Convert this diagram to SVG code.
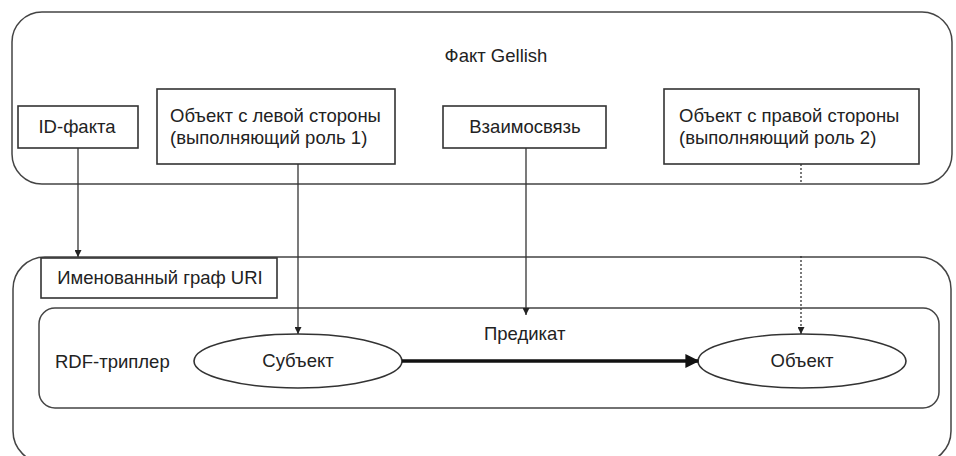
<svg xmlns="http://www.w3.org/2000/svg" width="956" height="456" viewBox="0 0 956 456">
<defs>
<style>
.frame{fill:none;stroke:#444;stroke-width:1.5}
.box{fill:#fff;stroke:#333;stroke-width:1.6}
.t{font-family:"Liberation Sans",Arial,sans-serif;font-size:18.5px;fill:#222}
.c{stroke:#333;stroke-width:1.3;fill:none}
</style>
<marker id="ah" viewBox="0 0 10 10" refX="10" refY="5" markerWidth="7" markerHeight="7" markerUnits="userSpaceOnUse" orient="auto"><path d="M0,0 L10,5 L0,10 z" fill="#222"/></marker>
<marker id="ahb" viewBox="0 0 10 10" refX="9" refY="5" markerWidth="4" markerHeight="4" orient="auto"><path d="M0,0 L10,5 L0,10 z" fill="#111"/></marker>
</defs>
<g id="gellish-fact">
<rect class="frame" x="12" y="12" width="940" height="172" rx="30" ry="30"/>
<text class="t" x="496" y="62" text-anchor="middle">Факт Gellish</text>
</g>
<g id="named-graph-frame">
<rect class="frame" x="13" y="257" width="938" height="206" rx="32" ry="32"/>
</g>
<g id="rdf-triple">
<rect class="frame" x="39" y="308" width="900" height="100" rx="16" ry="16"/>
<text class="t" x="55" y="368">RDF-триплер</text>
</g>
<g id="id-fact">
<rect class="box" x="18" y="106" width="120" height="42"/>
<text class="t" x="77" y="133" text-anchor="middle">ID-факта</text>
</g>
<g id="left-object">
<rect class="box" x="157" y="89" width="238" height="75"/>
<text class="t" x="170" y="122">Объект с левой стороны</text>
<text class="t" x="170" y="144">(выполняющий роль 1)</text>
</g>
<g id="relation">
<rect class="box" x="443" y="106" width="163" height="42"/>
<text class="t" x="525" y="133" text-anchor="middle">Взаимосвязь</text>
</g>
<g id="right-object">
<rect class="box" x="664" y="89" width="255" height="75"/>
<text class="t" x="679" y="122">Объект с правой стороны</text>
<text class="t" x="679" y="144">(выполняющий роль 2)</text>
</g>
<g id="named-graph-uri">
<rect class="box" x="41" y="258" width="236" height="40"/>
<text class="t" x="160" y="284" text-anchor="middle">Именованный граф URI</text>
</g>
<g id="subject">
<ellipse class="box" cx="298" cy="361" rx="104" ry="27"/>
<text class="t" x="298" y="367" text-anchor="middle">Субъект</text>
</g>
<g id="object">
<ellipse class="box" cx="802" cy="361" rx="104" ry="27"/>
<text class="t" x="802" y="367" text-anchor="middle">Объект</text>
</g>
<g id="predicate-label">
<text class="t" x="484" y="340">Предикат</text>
</g>
<g id="connectors">
<path class="c" d="M78,148 V257" marker-end="url(#ah)"/>
<path class="c" d="M298,164 V334" marker-end="url(#ah)"/>
<path class="c" d="M526,148 V315" marker-end="url(#ah)"/>
<path class="c" d="M801,164 V184 M801,256 V334" stroke-dasharray="2,2" marker-end="url(#ah)"/>
<path d="M402,361 H698" stroke="#111" stroke-width="3.5" fill="none" marker-end="url(#ahb)"/>
</g>
</svg>
